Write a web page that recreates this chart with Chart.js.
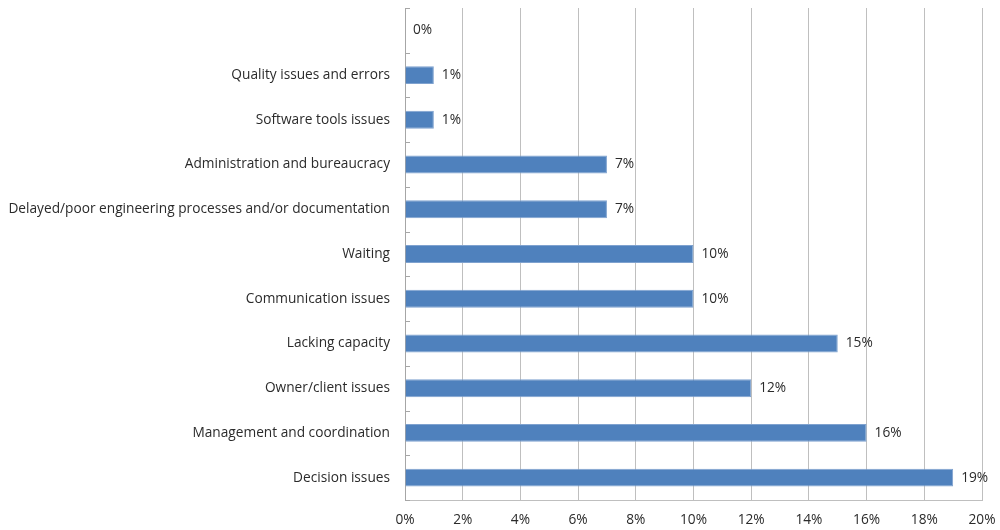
<!DOCTYPE html>
<html>
<head>
<meta charset="utf-8">
<script src="https://cdn.jsdelivr.net/npm/chart.js@4"></script>
<style>
    html, body { margin: 0; padding: 0; background: #fff; }
    #wrap { width: 1000px; height: 530px; }
</style>
</head>
<body>
<div id="wrap"><canvas id="chart"></canvas></div>
<script>
// Категории сверху вниз
const categories = [
    '',
    'Quality issues and errors',
    'Software tools issues',
    'Administration and bureaucracy',
    'Delayed/poor engineering processes and/or documentation',
    'Waiting',
    'Communication issues',
    'Lacking capacity',
    'Owner/client issues',
    'Management and coordination',
    'Decision issues'
];
const shares = [0, 1, 1, 7, 7, 10, 10, 15, 12, 16, 19];
const xTicks = [0, 2, 4, 6, 8, 10, 12, 14, 16, 18, 20];

const textColor = '#2b2b2b';
const fontFamily = '"Open Sans", sans-serif';
const fontSize = 13.7;

// Подписи значений справа от столбцов
const valueLabels = {
    id: 'valueLabels',
    afterDatasetsDraw(chart) {
        const ctx = chart.ctx;
        const x = chart.scales.x;
        const meta = chart.getDatasetMeta(0);
        ctx.save();
        ctx.fillStyle = textColor;
        ctx.font = fontSize + 'px ' + fontFamily;
        ctx.textAlign = 'left';
        ctx.textBaseline = 'middle';
        meta.data.forEach((bar, i) => {
            ctx.fillText(shares[i] + '%', x.getPixelForValue(shares[i]) + 8, bar.y);
        });
        ctx.restore();
    }
};

// Короткие засечки на оси категорий
const innerTicks = {
    id: 'innerTicks',
    afterDraw(chart) {
        const ctx = chart.ctx;
        const y = chart.scales.y;
        const left = chart.chartArea.left;
        const step = (y.bottom - y.top) / categories.length;
        ctx.save();
        ctx.strokeStyle = '#a6a6a6';
        ctx.lineWidth = 1;
        for (let i = 0; i <= categories.length; i++) {
            const py = Math.round(y.top + i * step) + 0.5;
            ctx.beginPath();
            ctx.moveTo(left, py);
            ctx.lineTo(left + 5, py);
            ctx.stroke();
        }
        ctx.restore();
    }
};

new Chart(document.getElementById('chart').getContext('2d'), {
    type: 'bar',
    data: {
        labels: categories,
        datasets: [{
            data: shares,
            backgroundColor: '#4F81BD',
            borderColor: '#7FA2CF',
            borderWidth: 1,
            barPercentage: 0.4,
            categoryPercentage: 1
        }]
    },
    options: {
        indexAxis: 'y',
        responsive: true,
        maintainAspectRatio: false,
        animation: false,
        layout: { padding: { top: 8, right: 18, left: 0, bottom: 0 } },
        plugins: {
            legend: { display: false },
            tooltip: { enabled: false }
        },
        scales: {
            x: {
                min: 0,
                max: 20,
                afterBuildTicks(scale) {
                    scale.ticks = xTicks.map(v => ({ value: v }));
                },
                afterFit(scale) {
                    scale.height = 30;
                    scale.paddingLeft = 0;
                    scale.paddingRight = 0;
                },
                grid: {
                    color: '#BFBFBF',
                    drawTicks: false
                },
                border: { color: '#BFBFBF' },
                ticks: {
                    color: textColor,
                    padding: 12,
                    font: { family: fontFamily, size: fontSize },
                    callback: v => v + '%'
                }
            },
            y: {
                afterFit(scale) {
                    scale.width = 405;
                    scale.paddingTop = 0;
                    scale.paddingBottom = 0;
                },
                grid: { display: false, drawTicks: false },
                border: { color: '#a6a6a6' },
                ticks: {
                    color: textColor,
                    padding: 15,
                    autoSkip: false,
                    font: { family: fontFamily, size: fontSize }
                }
            }
        }
    },
    plugins: [valueLabels, innerTicks]
});
</script>
</body>
</html>
